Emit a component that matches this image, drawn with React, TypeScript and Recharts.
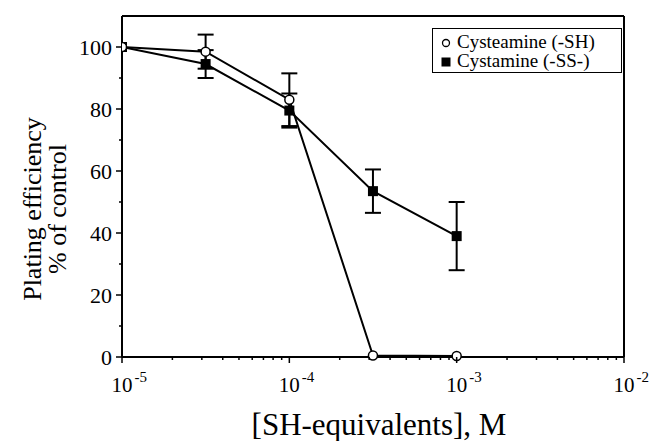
import { LineChart, Line, XAxis, YAxis, ErrorBar, ReferenceLine } from 'recharts'

const concentrations = [1e-5, 3.16e-5, 1e-4, 3.16e-4, 1e-3]
const cysteamine = [100, 98.5, 83, 0.5, 0.3]
const cysteamineErr = [0, 5.5, 8.5, 0, 0]
const cystamine = [100, 94.5, 79.5, 53.5, 39]
const cystamineErr = [0, 4.5, 5.5, 7, 11]

const majorX = [1e-5, 1e-4, 1e-3, 1e-2]
const minorX = [-5, -4, -3].flatMap((e) => [2, 3, 4, 5, 6, 7, 8, 9].map((m) => m * Math.pow(10, e)))
const majorY = [0, 20, 40, 60, 80, 100]
const minorY = [10, 30, 50, 70, 90]

const FONT = '"Liberation Serif", "Times New Roman", serif'

const toRows = (vals: number[], errs: number[]) =>
  concentrations.map((c, i) => ({ x: c, y: vals[i], err: errs[i] }))

const cysteamineData = toRows(cysteamine, cysteamineErr)
const cystamineData = toRows(cystamine, cystamineErr)

const XTick = (props: any) => {
  const { x, y, payload } = props
  const v = payload.value
  const major = majorX.some((m) => Math.abs(m - v) / m < 1e-6)
  if (!major) {
    return <line x1={x} y1={y} x2={x} y2={y + 3} stroke="#000" strokeWidth={1.5} />
  }
  const exp = Math.round(Math.log10(v))
  return (
    <g>
      <line x1={x} y1={y} x2={x} y2={y + 6} stroke="#000" strokeWidth={1.5} />
      <text x={x - 10.5} y={y + 35} textAnchor="start" fontFamily={FONT} fontSize={21} fill="#000">
        10
        <tspan dx={2} dy={-10} fontSize={15}>{exp}</tspan>
      </text>
    </g>
  )
}

const YTick = (props: any) => {
  const { x, y, payload } = props
  const v = payload.value
  const major = majorY.includes(v)
  if (!major) {
    return <line x1={x} y1={y} x2={x - 3} y2={y} stroke="#000" strokeWidth={1.5} />
  }
  return (
    <g>
      <line x1={x} y1={y} x2={x - 6} y2={y} stroke="#000" strokeWidth={1.5} />
      <text x={x - 10} y={y + 7.5} textAnchor="end" fontFamily={FONT} fontSize={22} fill="#000">
        {v}
      </text>
    </g>
  )
}

const OpenDot = (props: any) => {
  const { cx, cy } = props
  if (cx == null || cy == null) return null
  return <circle cx={cx} cy={cy} r={4.5} fill="#fff" stroke="#000" strokeWidth={1.5} />
}

const SquareDot = (props: any) => {
  const { cx, cy } = props
  if (cx == null || cy == null) return null
  return <rect x={cx - 5} y={cy - 5} width={10} height={10} fill="#000" />
}

const LegendBox = () => (
  <div
    style={{
      position: 'absolute',
      left: 432,
      top: 28,
      width: 190,
      height: 45,
      boxSizing: 'border-box',
      border: '1.5px solid #000',
      background: '#fff',
      padding: '2.5px 0 0 8px',
      fontFamily: FONT,
      fontSize: 19,
      lineHeight: '19px',
      color: '#000',
      whiteSpace: 'nowrap',
    }}
  >
    <div>
      <svg width={10} height={10} style={{ marginRight: 6 }}>
        <circle cx={5} cy={5} r={3.5} fill="#fff" stroke="#000" strokeWidth={1.3} />
      </svg>
      Cysteamine (-SH)
    </div>
    <div>
      <svg width={10} height={10} style={{ marginRight: 6 }}>
        <rect x={0.5} y={0.5} width={9} height={9} fill="#000" />
      </svg>
      Cystamine (-SS-)
    </div>
  </div>
)

export default function App() {
  return (
    <div style={{ position: 'absolute', left: 0, top: 0, width: 658, height: 441, background: '#fff' }}>
      <LineChart width={658} height={441} margin={{ top: 16, right: 34, left: 62, bottom: 0 }}>
        <XAxis
          dataKey="x"
          type="number"
          scale="log"
          domain={[1e-5, 1e-2]}
          ticks={[...majorX, ...minorX]}
          allowDataOverflow
          height={84}
          tickSize={0}
          tickMargin={0}
          tickLine={false}
          tick={<XTick />}
          interval={0}
          stroke="#000"
          strokeWidth={2}
          label={{
            value: '[SH-equivalents], M',
            position: 'insideBottom',
            offset: 6,
            dx: 6,
            fontFamily: FONT,
            fontSize: 31,
            fill: '#000',
          }}
        />
        <YAxis
          type="number"
          domain={[0, 110]}
          ticks={[...majorY, ...minorY]}
          width={60}
          tickSize={0}
          tickMargin={0}
          tickLine={false}
          tick={<YTick />}
          interval={0}
          stroke="#000"
          strokeWidth={2}
        />
        <ReferenceLine y={110} stroke="#000" strokeWidth={2} />
        <ReferenceLine x={1e-2} stroke="#000" strokeWidth={2} />
        <Line
          data={cystamineData}
          dataKey="y"
          stroke="#000"
          strokeWidth={2}
          dot={<SquareDot />}
          isAnimationActive={false}
        >
          <ErrorBar dataKey="err" direction="y" width={8} stroke="#000" strokeWidth={2} />
        </Line>
        <Line
          data={cysteamineData}
          dataKey="y"
          stroke="#000"
          strokeWidth={2}
          dot={<OpenDot />}
          isAnimationActive={false}
        >
          <ErrorBar dataKey="err" direction="y" width={8} stroke="#000" strokeWidth={2} />
        </Line>
      </LineChart>
      <LegendBox />
      <div
        style={{
          position: 'absolute',
          left: 45,
          top: 209,
          transform: 'translate(-50%, -50%) rotate(-90deg)',
          fontFamily: FONT,
          fontSize: 26,
          lineHeight: '25px',
          textAlign: 'center',
          whiteSpace: 'nowrap',
          color: '#000',
        }}
      >
        Plating efficiency
        <br />
        % of control
      </div>
    </div>
  )
}
